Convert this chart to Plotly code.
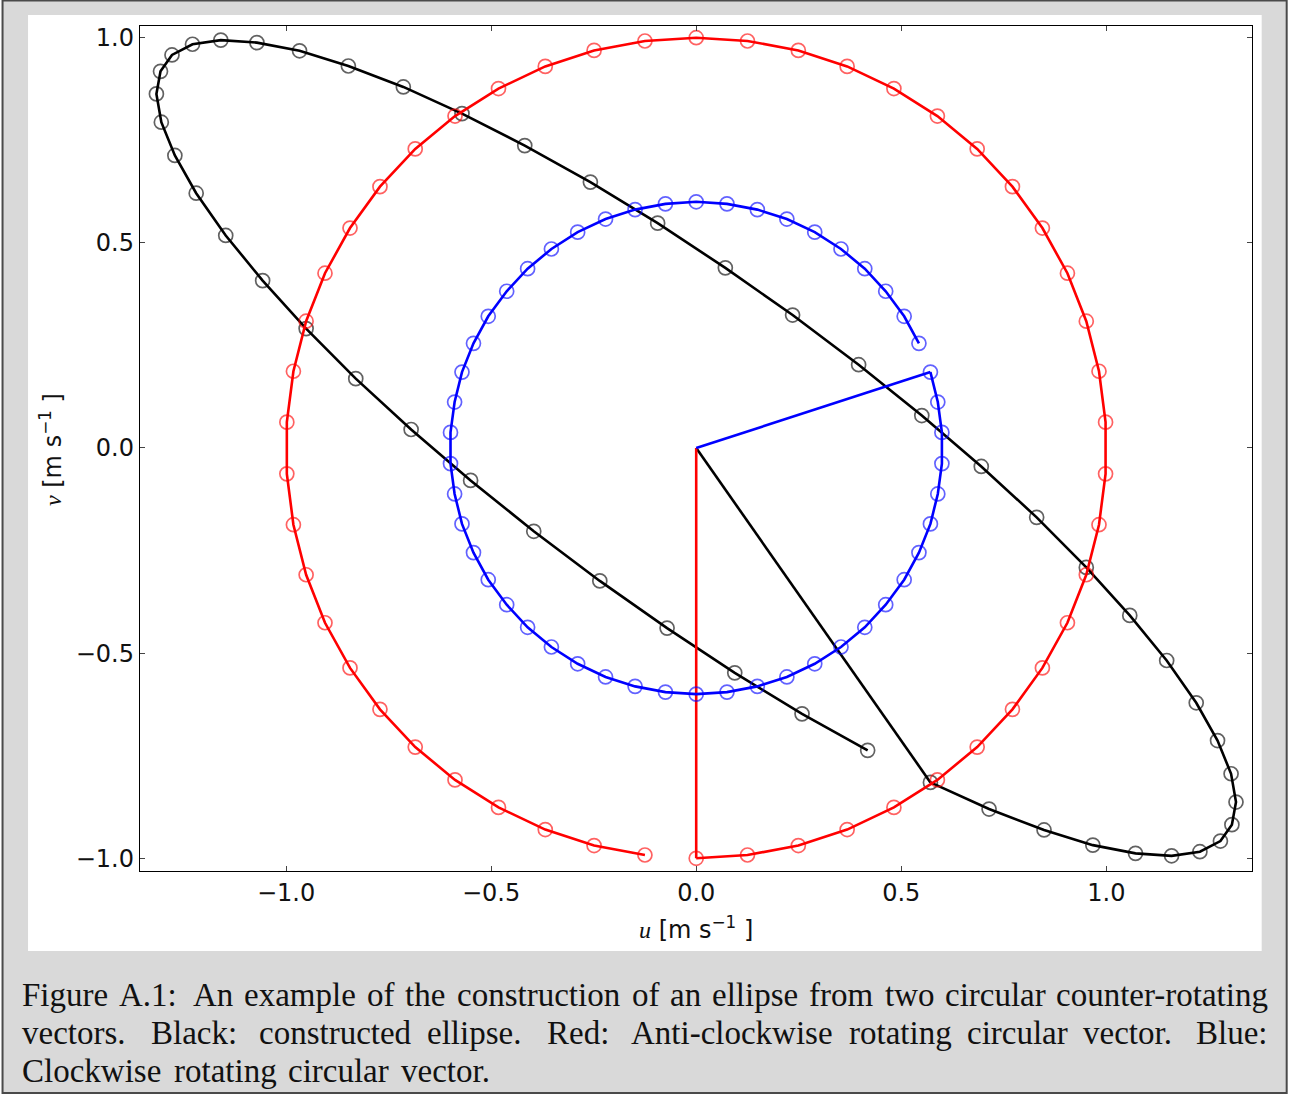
import plotly.graph_objects as go

# ---------------- data ----------------
# Anti-clockwise rotating circular vector (radius 1)
red_u = [0.000, 0.125, 0.249, 0.368, 0.482, 0.588, 0.685, 0.771, 0.844, 0.905,
         0.951, 0.982, 0.998, 0.998, 0.982, 0.951, 0.905, 0.844, 0.771, 0.685,
         0.588, 0.482, 0.368, 0.249, 0.125, 0.000, -0.125, -0.249, -0.368, -0.482,
         -0.588, -0.685, -0.771, -0.844, -0.905, -0.951, -0.982, -0.998, -0.998, -0.982,
         -0.951, -0.905, -0.844, -0.771, -0.685, -0.588, -0.482, -0.368, -0.249, -0.125]
red_v = [-1.000, -0.992, -0.969, -0.930, -0.876, -0.809, -0.729, -0.637, -0.536, -0.426,
         -0.309, -0.187, -0.063, 0.063, 0.187, 0.309, 0.426, 0.536, 0.637, 0.729,
         0.809, 0.876, 0.930, 0.969, 0.992, 1.000, 0.992, 0.969, 0.930, 0.876,
         0.809, 0.729, 0.637, 0.536, 0.426, 0.309, 0.187, 0.063, -0.063, -0.187,
         -0.309, -0.426, -0.536, -0.637, -0.729, -0.809, -0.876, -0.930, -0.969, -0.992]

# Clockwise rotating circular vector (radius 0.6)
blue_u = [0.571, 0.589, 0.599, 0.599, 0.589, 0.571, 0.543, 0.507, 0.462, 0.411,
          0.353, 0.289, 0.221, 0.149, 0.075, 0.000, -0.075, -0.149, -0.221, -0.289,
          -0.353, -0.411, -0.462, -0.507, -0.543, -0.571, -0.589, -0.599, -0.599, -0.589,
          -0.571, -0.543, -0.507, -0.462, -0.411, -0.353, -0.289, -0.221, -0.149, -0.075,
          0.000, 0.075, 0.149, 0.221, 0.289, 0.353, 0.411, 0.462, 0.507, 0.543]
blue_v = [0.185, 0.112, 0.038, -0.038, -0.112, -0.185, -0.255, -0.321, -0.382, -0.437,
          -0.485, -0.526, -0.558, -0.581, -0.595, -0.600, -0.595, -0.581, -0.558, -0.526,
          -0.485, -0.437, -0.382, -0.321, -0.255, -0.185, -0.112, -0.038, 0.038, 0.112,
          0.185, 0.255, 0.321, 0.382, 0.437, 0.485, 0.526, 0.558, 0.581, 0.595,
          0.600, 0.595, 0.581, 0.558, 0.526, 0.485, 0.437, 0.382, 0.321, 0.255]

# Constructed ellipse (sum of the two vectors)
black_u = [0.571, 0.714, 0.848, 0.967, 1.071, 1.159, 1.228, 1.278, 1.306, 1.316,
           1.304, 1.271, 1.219, 1.147, 1.057, 0.951, 0.830, 0.695, 0.550, 0.396,
           0.235, 0.071, -0.094, -0.258, -0.418, -0.571, -0.714, -0.848, -0.967, -1.071,
           -1.159, -1.228, -1.278, -1.306, -1.316, -1.304, -1.271, -1.219, -1.147, -1.057,
           -0.951, -0.830, -0.695, -0.550, -0.396, -0.235, -0.071, 0.094, 0.258, 0.418]
black_v = [-0.815, -0.880, -0.931, -0.968, -0.988, -0.994, -0.984, -0.958, -0.918, -0.863,
           -0.794, -0.713, -0.621, -0.518, -0.408, -0.291, -0.169, -0.045, 0.079, 0.203,
           0.324, 0.439, 0.548, 0.648, 0.737, 0.815, 0.880, 0.931, 0.968, 0.988,
           0.994, 0.984, 0.958, 0.918, 0.863, 0.794, 0.713, 0.621, 0.518, 0.408,
           0.291, 0.169, 0.045, -0.079, -0.203, -0.324, -0.439, -0.548, -0.648, -0.737]

tick_vals = [-1.0, -0.5, 0.0, 0.5, 1.0]
tick_text = ["\u22121.0", "\u22120.5", "0.0", "0.5", "1.0"]

x_title = '<span style="font-family:Liberation Serif;font-style:italic">u</span> [m s<sup>\u22121</sup> ]'
y_title = '<span style="font-family:Liberation Serif;font-style:italic">v</span> [m s<sup>\u22121</sup> ]'

caption_lines = [
    "Figure A.1: An example of the construction of an ellipse from two circular counter-rotating",
    "vectors. Black: constructed ellipse. Red: Anti-clockwise rotating circular vector. Blue:",
    "Clockwise rotating circular vector.",
]

# ---------------- layout geometry (pixels) ----------------
W, H = 1299, 1095
PL, PR, PT, PB = 140, 1252.3, 26, 871      # plot-area edges


def fx(p):
    return (p - PL) / (PR - PL)


def fy(p):
    return (PB - p) / (PB - PT)


fig = go.Figure()

series = [
    (black_u, black_v, "#000000", "rgba(0,0,0,0.62)"),
    (red_u, red_v, "#ff0000", "rgba(255,0,0,0.62)"),
    (blue_u, blue_v, "#0000ff", "rgba(0,0,255,0.62)"),
]
for u, v, col, mcol in series:
    # vector from the origin to the first position
    fig.add_trace(go.Scatter(x=[0, u[0]], y=[0, v[0]], mode="lines",
                             line=dict(color=col, width=2.6),
                             hoverinfo="skip", showlegend=False))
    fig.add_trace(go.Scatter(x=u, y=v, mode="lines+markers",
                             line=dict(color=col, width=2.6),
                             marker=dict(symbol="circle-open", size=14, color=mcol,
                                         line=dict(width=1.7, color=mcol)),
                             showlegend=False))

axis_common = dict(showgrid=False, zeroline=False, showline=True, linecolor="black",
                   linewidth=1.4, mirror="ticks", ticks="inside", ticklen=5,
                   tickwidth=1, tickcolor="#444", tickvals=tick_vals, ticktext=tick_text,
                   tickfont=dict(family="DejaVu Sans", size=24, color="#111"))

fig.update_xaxes(range=[-1.356, 1.355], **axis_common)
fig.update_yaxes(range=[-1.031, 1.0285], **axis_common)

shapes = [
    # grey figure frame
    dict(type="rect", xref="paper", yref="paper", layer="below",
         x0=fx(2.5), x1=fx(1287), y0=fy(0.5), y1=fy(1093),
         fillcolor="#d9d9d9", line=dict(color="#4a4a4a", width=2)),
    # white panel holding the plot
    dict(type="rect", xref="paper", yref="paper", layer="below",
         x0=fx(28), x1=fx(1262), y0=fy(15), y1=fy(951),
         fillcolor="white", line=dict(width=0)),
]

annotations = [
    dict(text=x_title, xref="paper", yref="paper", x=fx(696), y=fy(928),
         xanchor="center", yanchor="middle", showarrow=False,
         font=dict(family="DejaVu Sans", size=24, color="#111")),
    dict(text=y_title, xref="paper", yref="paper", x=fx(51), y=fy(450),
         xanchor="center", yanchor="middle", showarrow=False, textangle=-90,
         font=dict(family="DejaVu Sans", size=24, color="#111")),
]

# ---------------- justified caption ----------------
# Advance widths (1/1000 em) of the Times-metric serif face used for the caption
TIMES_W = {
    " ": 250, "a": 444, "b": 500, "c": 444, "d": 500, "e": 444, "f": 333, "g": 500,
    "h": 500, "i": 278, "j": 278, "k": 500, "l": 278, "m": 778, "n": 500, "o": 500,
    "p": 500, "q": 500, "r": 333, "s": 389, "t": 278, "u": 500, "v": 500, "w": 722,
    "x": 500, "y": 500, "z": 444, "A": 722, "B": 667, "C": 667, "F": 556, "R": 667,
    ".": 250, ":": 278, "-": 333, "1": 500,
}
CAP_SIZE = 33
CAP_LEFT, CAP_RIGHT = 20, 1270
line_y = [995, 1033, 1071]


def word_width(word):
    # small allowance for the browser's rounding of glyph advances
    return 1.008 * sum(TIMES_W.get(ch, 500) for ch in word) * CAP_SIZE / 1000.0


def gap_weight(word):
    # wider inter-word space after sentence ends and colons
    if word.endswith("."):
        return 1.7
    if word.endswith(":"):
        return 1.4
    return 1.0


for li, line in enumerate(caption_lines):
    words = line.split(" ")
    widths = [word_width(w) for w in words]
    weights = [gap_weight(w) for w in words[:-1]]
    justified = li < len(caption_lines) - 1
    if justified:
        unit = (CAP_RIGHT - CAP_LEFT - sum(widths)) / sum(weights)
    else:
        unit = 0.34 * CAP_SIZE
    x = CAP_LEFT
    for wi, w in enumerate(words):
        last = justified and wi == len(words) - 1
        annotations.append(dict(
            text=w, xref="paper", yref="paper",
            x=fx(CAP_RIGHT) if last else fx(x), y=fy(line_y[li]),
            xanchor="right" if last else "left", yanchor="middle", showarrow=False,
            font=dict(family="Liberation Serif", size=CAP_SIZE, color="#111")))
        if wi < len(words) - 1:
            x += widths[wi] + unit * weights[wi]

fig.update_layout(
    width=W, height=H,
    margin=dict(l=PL, r=W - PR, t=PT, b=H - PB, pad=0),
    paper_bgcolor="white", plot_bgcolor="rgba(0,0,0,0)",
    shapes=shapes, annotations=annotations, showlegend=False,
)

fig.write_html("out.html", config={"displayModeBar": False})
